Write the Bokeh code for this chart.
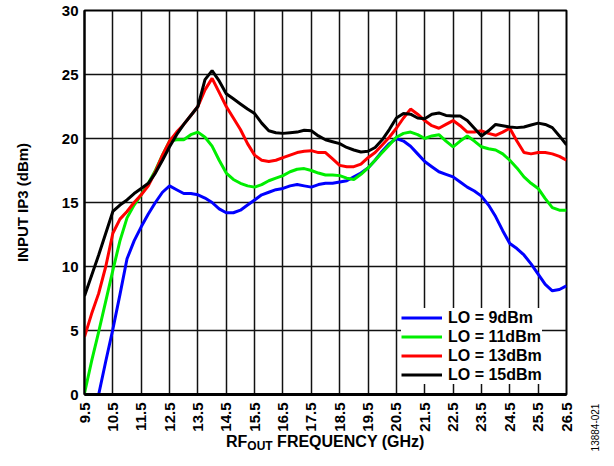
import math
from bokeh.plotting import figure
from bokeh.models import FixedTicker, Legend, LegendItem, Div
from bokeh.layouts import column
from bokeh.embed import file_html
from bokeh.resources import INLINE

# ---- data ----
freq = [9.5, 9.75, 10.0, 10.25, 10.5, 10.75, 11.0, 11.25, 11.5, 11.75,
        12.0, 12.25, 12.5, 12.75, 13.0, 13.25, 13.5, 13.75, 14.0, 14.25,
        14.5, 14.75, 15.0, 15.25, 15.5, 15.75, 16.0, 16.25, 16.5, 16.75,
        17.0, 17.25, 17.5, 17.75, 18.0, 18.25, 18.5, 18.75, 19.0, 19.25,
        19.5, 19.75, 20.0, 20.25, 20.5, 20.75, 21.0, 21.25, 21.5, 21.75,
        22.0, 22.25, 22.5, 22.75, 23.0, 23.25, 23.5, 23.75, 24.0, 24.25,
        24.5, 24.75, 25.0, 25.25, 25.5, 25.75, 26.0, 26.25, 26.5]

freq_lo9 = freq[2:]
ip3_lo9 = [0.0, 2.6, 5.1, 7.8, 10.6, 12.0, 13.1, 14.1,
           15.0, 15.8, 16.3, 16.0, 15.7, 15.7, 15.6, 15.35, 15.0, 14.5,
           14.2, 14.2, 14.4, 14.8, 15.2, 15.6, 15.8, 16.0, 16.1, 16.3,
           16.4, 16.3, 16.2, 16.4, 16.5, 16.5, 16.6, 16.7, 17.0, 17.3,
           17.7, 18.3, 19.0, 19.6, 20.0, 19.8, 19.4, 18.8, 18.2, 17.8,
           17.4, 17.2, 17.0, 16.6, 16.2, 15.9, 15.5, 14.8, 13.9, 12.8,
           11.8, 11.4, 10.9, 10.2, 9.4, 8.6, 8.1, 8.2, 8.5]

ip3_lo11 = [0.1, 2.6, 4.9, 7.3, 9.7, 12.0, 13.8, 14.8, 15.6, 16.5,
            17.5, 18.7, 19.8, 19.9, 19.9, 20.3, 20.5, 20.1, 19.4, 18.3,
            17.3, 16.8, 16.5, 16.3, 16.2, 16.4, 16.7, 16.9, 17.1, 17.4,
            17.6, 17.65, 17.5, 17.3, 17.15, 17.15, 17.1, 16.9, 16.8, 17.2,
            17.7, 18.3, 18.9, 19.5, 20.1, 20.4, 20.5, 20.3, 20.0, 20.2,
            20.3, 19.8, 19.35, 19.8, 20.2, 19.8, 19.35, 19.2, 19.1, 18.8,
            18.3, 17.7, 17.0, 16.5, 16.1, 15.3, 14.6, 14.4, 14.4]

ip3_lo13 = [4.5, 6.3, 7.9, 10.0, 12.6, 13.7, 14.3, 15.0, 15.6, 16.3,
            17.4, 18.7, 19.8, 20.5, 21.1, 21.8, 22.5, 23.8, 24.7, 23.6,
            22.5, 21.6, 20.7, 19.6, 18.7, 18.3, 18.2, 18.3, 18.5, 18.7,
            18.9, 19.0, 19.05, 18.9, 18.9, 18.4, 17.9, 17.8, 17.8, 18.0,
            18.5, 18.9, 19.5, 20.1, 20.8, 21.6, 22.3, 21.9, 21.4, 21.0,
            20.8, 21.1, 21.4, 21.0, 20.5, 20.5, 20.6, 20.4, 20.25, 20.5,
            20.8, 19.8, 18.9, 18.8, 18.9, 18.9, 18.8, 18.6, 18.3]

ip3_lo15 = [7.7, 9.3, 10.9, 12.6, 14.3, 14.8, 15.2, 15.7, 16.1, 16.5,
            17.3, 18.3, 19.35, 20.3, 21.1, 21.8, 22.5, 24.6, 25.3, 24.5,
            23.5, 23.1, 22.7, 22.3, 21.95, 21.2, 20.6, 20.45, 20.4, 20.45,
            20.5, 20.65, 20.6, 20.2, 19.9, 19.75, 19.6, 19.3, 19.1, 18.95,
            19.0, 19.3, 19.9, 20.7, 21.6, 21.95, 21.9, 21.6, 21.55, 21.9,
            22.0, 21.8, 21.75, 21.75, 21.4, 20.8, 20.2, 20.6, 21.1, 21.0,
            20.9, 20.85, 20.9, 21.05, 21.2, 21.1, 20.85, 20.2, 19.5]

x_ticks = [9.5, 10.5, 11.5, 12.5, 13.5, 14.5, 15.5, 16.5, 17.5, 18.5,
           19.5, 20.5, 21.5, 22.5, 23.5, 24.5, 25.5, 26.5]
y_ticks = [0, 5, 10, 15, 20, 25, 30]

series_labels = ["LO = 9dBm", "LO = 11dBm", "LO = 13dBm", "LO = 15dBm"]
series_colors = ["#0000ff", "#00ee00", "#ff0000", "#000000"]

FONT = "Liberation Sans"

p = figure(width=598, height=434, x_range=(9.5, 26.5), y_range=(0, 30),
           output_backend="svg", toolbar_location=None,
           min_border_left=84, min_border_right=32,
           min_border_top=10, min_border_bottom=39)
p.background_fill_color = "white"
p.border_fill_color = "white"
p.outline_line_color = "black"
p.outline_line_width = 2

p.xaxis.ticker = FixedTicker(ticks=x_ticks)
p.yaxis.ticker = FixedTicker(ticks=y_ticks)
for ax in (p.xaxis[0], p.yaxis[0]):
    ax.major_tick_in = 0
    ax.major_tick_out = 0
    ax.minor_tick_in = 0
    ax.minor_tick_out = 0
    ax.axis_line_color = "black"
    ax.major_label_text_font = FONT
    ax.major_label_text_font_style = "bold"
    ax.major_label_text_font_size = "15px"
    ax.major_label_text_color = "black"
p.xaxis.axis_line_width = 3
p.yaxis.axis_line_width = 2
p.xaxis.major_label_orientation = math.pi / 2
p.xaxis.major_label_standoff = 8
p.yaxis.major_label_standoff = 6
p.xaxis.major_label_overrides = {t: f"{t:.1f}" for t in x_ticks}

p.yaxis.axis_label = "INPUT IP3 (dBm)"
p.yaxis.axis_label_text_font = FONT
p.yaxis.axis_label_text_font_style = "bold"
p.yaxis.axis_label_text_font_size = "15px"
p.yaxis.axis_label_text_color = "black"
p.yaxis.axis_label_standoff = 28

p.xgrid.ticker = FixedTicker(ticks=x_ticks)
p.ygrid.ticker = FixedTicker(ticks=y_ticks)
for g in (p.xgrid[0], p.ygrid[0]):
    g.grid_line_color = "#111111"
    g.grid_line_width = 1.5

r9 = p.line(freq_lo9, ip3_lo9, line_color=series_colors[0], line_width=3)
r11 = p.line(freq, ip3_lo11, line_color=series_colors[1], line_width=3)
r13 = p.line(freq, ip3_lo13, line_color=series_colors[2], line_width=3)
r15 = p.line(freq, ip3_lo15, line_color=series_colors[3], line_width=3)

legend = Legend(items=[LegendItem(label=series_labels[0], renderers=[r9]),
                       LegendItem(label=series_labels[1], renderers=[r11]),
                       LegendItem(label=series_labels[2], renderers=[r13]),
                       LegendItem(label=series_labels[3], renderers=[r15])],
                location=(317, 10))
legend.border_line_color = None
legend.background_fill_color = "white"
legend.background_fill_alpha = 1.0
legend.padding = 10
legend.spacing = 0
legend.margin = 0
legend.glyph_width = 41
legend.glyph_height = 19
legend.label_height = 19
legend.label_standoff = 6
legend.label_text_font = FONT
legend.label_text_font_style = "bold"
legend.label_text_font_size = "16px"
legend.label_text_color = "black"
legend.label_text_baseline = "middle"
p.add_layout(legend)

# x-axis title (with subscript) and figure number, as real HTML text below the plot
title_html = (
    '<div style="position:relative;width:598px;height:16px;overflow:visible;'
    "font-family:'Liberation Sans',Arial,sans-serif;font-weight:bold;"
    'font-size:16px;line-height:16px;color:#000;white-space:nowrap;">'
    '<span style="position:absolute;left:226px;top:0px;">RF'
    '<span style="font-size:12px;position:relative;top:3px;">OUT</span>'
    ' FREQUENCY (GHz)</span>'
    '<span style="position:absolute;left:571px;top:-12px;width:48px;'
    'font-size:10px;line-height:11px;font-weight:normal;text-align:center;'
    'transform:rotate(-90deg);transform-origin:50% 50%;">13884-021</span>'
    '</div>'
)
xtitle = Div(text=title_html, width=598, height=16, margin=0,
             styles={"overflow": "visible"})

layout = column(p, xtitle, spacing=0)

open("out.html", "w").write(file_html(layout, INLINE))
